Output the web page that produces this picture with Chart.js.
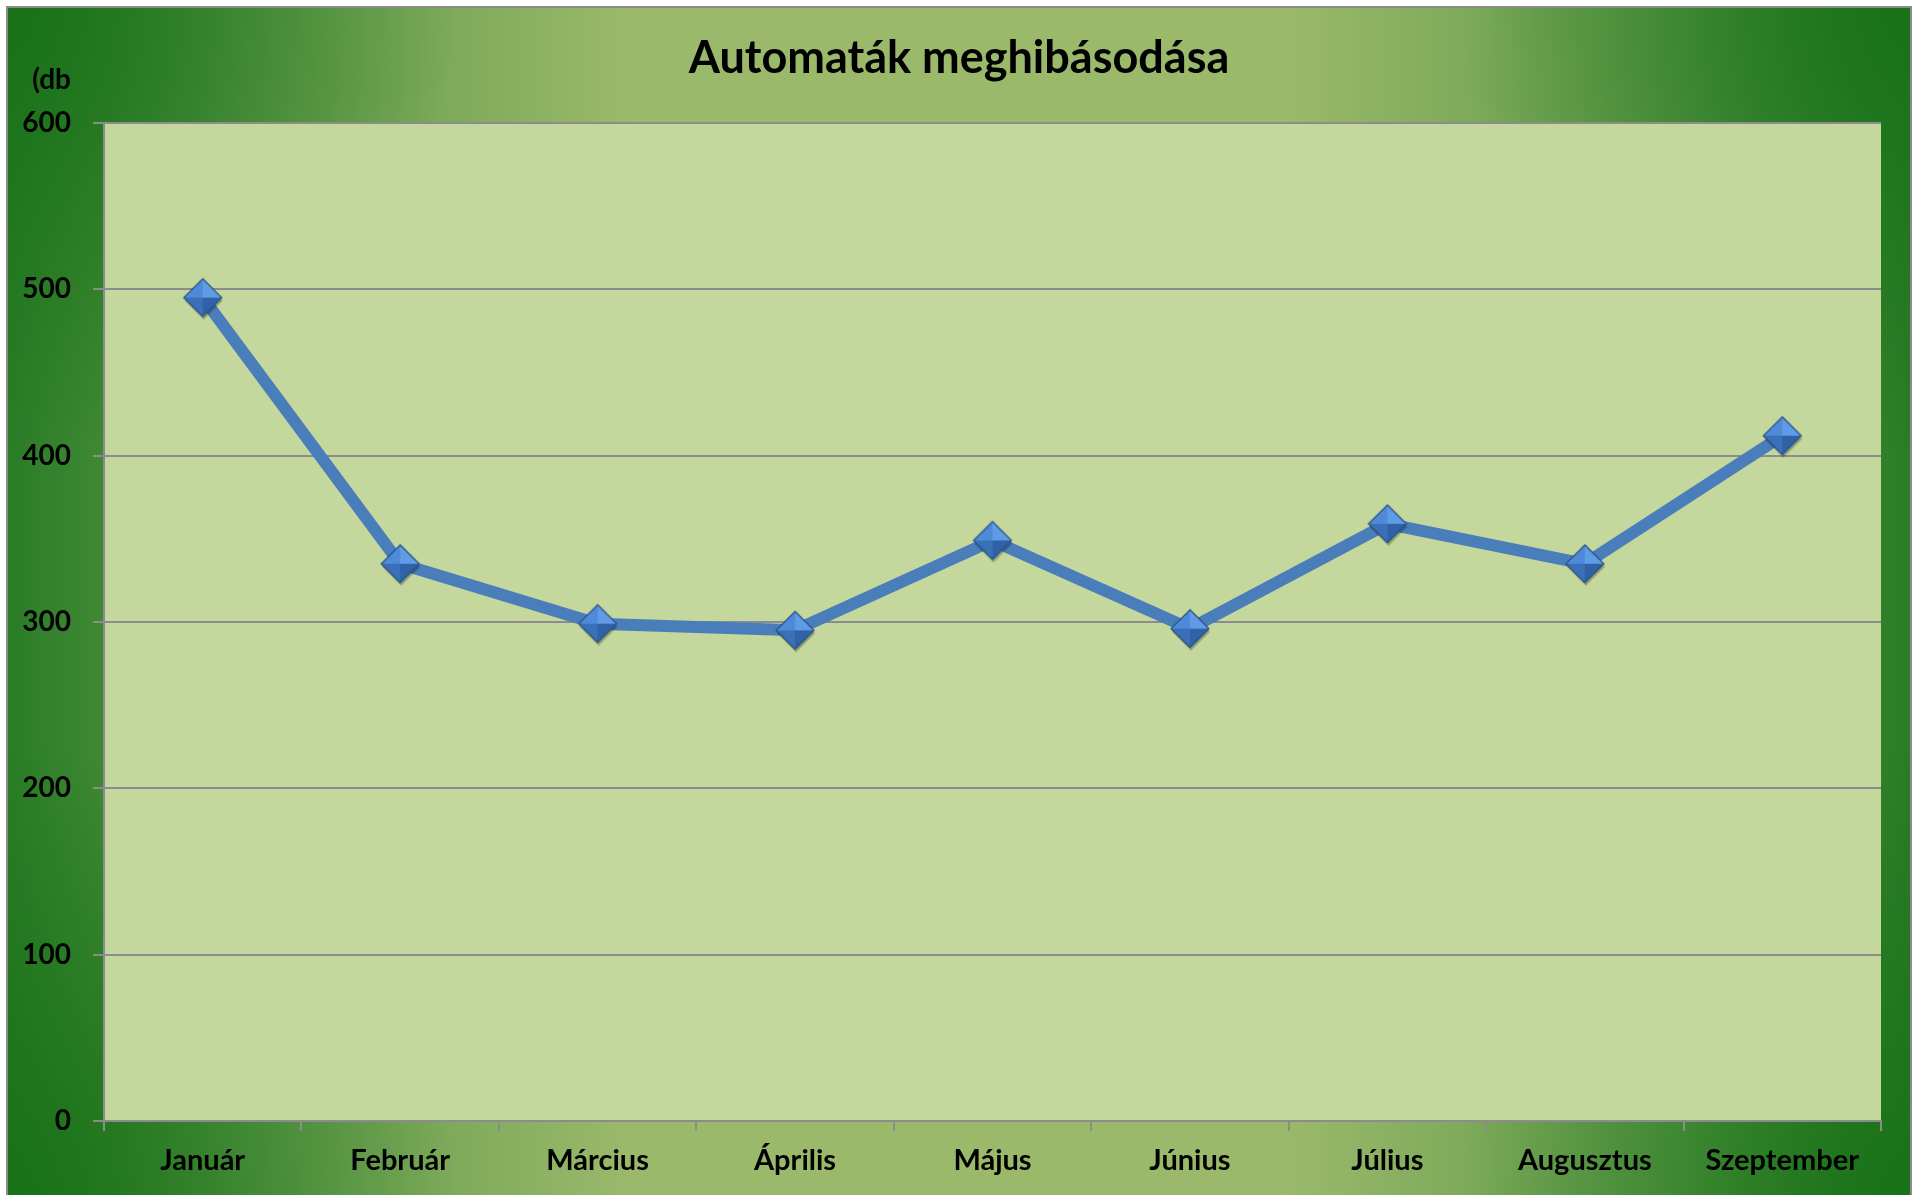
<!DOCTYPE html>
<html>
<head>
<meta charset="utf-8">
<script src="https://cdn.jsdelivr.net/npm/chart.js@4.4.1/dist/chart.umd.min.js"></script>
<style>
  html, body { margin: 0; padding: 0; background: #fff; overflow: hidden; }
  #wrap { position: absolute; left: 0; top: 0; width: 1923px; height: 1195px; }
</style>
</head>
<body>
<div id="wrap"><canvas id="chart"></canvas></div>
<script>
// months and failure counts (db)
const months = ['Január', 'Február', 'Március', 'Április', 'Május', 'Június', 'Július', 'Augusztus', 'Szeptember'];
const failures = [495, 335, 299, 295, 349, 296, 359, 335, 412];
const yMin = 0;
const yMax = 600;
const yStep = 100;
const chartTitle = 'Automaták meghibásodása';
const unitLabel = '(db';

const FONT = 'Lato, "Open Sans", sans-serif';

// shaded diamond marker, drawn once and used as point style
function makeDiamond(r) {
  const pad = 4;
  const c = document.createElement('canvas');
  c.width = c.height = 2 * (r + pad);
  const g = c.getContext('2d');
  const cx = r + pad, cy = r + pad;
  // soft shadow
  g.fillStyle = 'rgba(0,0,0,0.25)';
  g.beginPath();
  g.moveTo(cx + 1, cy - r + 3); g.lineTo(cx + r + 1, cy + 3);
  g.lineTo(cx + 1, cy + r + 3); g.lineTo(cx - r + 1, cy + 3);
  g.closePath(); g.fill();
  const tri = (pts, col) => {
    g.fillStyle = col;
    g.beginPath();
    g.moveTo(pts[0][0], pts[0][1]);
    for (let i = 1; i < pts.length; i++) g.lineTo(pts[i][0], pts[i][1]);
    g.closePath(); g.fill();
  };
  const T = [cx, cy - r], R = [cx + r, cy], B = [cx, cy + r], L = [cx - r, cy], C = [cx, cy];
  tri([T, C, L], '#4f8ad8');
  tri([T, R, C], '#5f9be6');
  tri([L, C, B], '#3a70b8');
  tri([C, R, B], '#2f62a6');
  g.strokeStyle = '#27507f';
  g.lineWidth = 1.2;
  g.beginPath();
  g.moveTo(T[0], T[1]); g.lineTo(R[0], R[1]); g.lineTo(B[0], B[1]); g.lineTo(L[0], L[1]);
  g.closePath(); g.stroke();
  return c;
}

const FRAME = { x0: 7, y0: 7, x1: 1911 };

const bgPlugin = {
  id: 'bg',
  beforeDraw(chart) {
    const { ctx, width, height, chartArea: a } = chart;
    const { x0, y0, x1 } = FRAME;
    const y1 = height + 10;
    ctx.save();
    ctx.fillStyle = '#ffffff';
    ctx.fillRect(0, 0, width, height);
    const lg = ctx.createLinearGradient(x0, 0, x1, 0);
    lg.addColorStop(0, '#2a7c26');
    lg.addColorStop(0.12, '#5d9948');
    lg.addColorStop(0.33, '#9bb96b');
    lg.addColorStop(0.67, '#9bb96b');
    lg.addColorStop(0.88, '#5d9948');
    lg.addColorStop(1, '#2a7c26');
    ctx.fillStyle = lg;
    ctx.fillRect(x0, y0, x1 - x0, y1 - y0);
    // darker corners
    const corners = [[x0, y0], [x1, y0], [x0, height], [x1, height]];
    corners.forEach(([cx, cy]) => {
      const rg = ctx.createRadialGradient(cx, cy, 0, cx, cy, 450);
      rg.addColorStop(0, 'rgba(22,112,22,0.9)');
      rg.addColorStop(1, 'rgba(22,112,22,0)');
      ctx.fillStyle = rg;
      ctx.fillRect(x0, y0, x1 - x0, y1 - y0);
    });
    ctx.strokeStyle = '#8c8c8c';
    ctx.lineWidth = 2;
    ctx.strokeRect(x0, y0, x1 - x0, y1 - y0);
    // plot area fill
    ctx.fillStyle = '#c4d79c';
    ctx.fillRect(a.left, a.top, a.right - a.left, a.bottom - a.top);
    ctx.restore();
  },
  afterDraw(chart) {
    const { ctx } = chart;
    ctx.save();
    ctx.fillStyle = '#000';
    ctx.textBaseline = 'middle';
    // title, centred on the outer frame like the original
    ctx.font = 'bold 45px ' + FONT;
    ctx.textAlign = 'center';
    ctx.fillText(chartTitle, (FRAME.x0 + FRAME.x1) / 2, 58);
    // unit label above the value axis
    ctx.font = 'bold 28px ' + FONT;
    ctx.textAlign = 'right';
    ctx.fillText(unitLabel, 71, 80);
    ctx.restore();
  }
};

const ctx = document.getElementById('chart');
new Chart(ctx, {
  type: 'line',
  data: {
    labels: months,
    datasets: [{
      label: 'db',
      data: failures,
      borderColor: '#4a7ebb',
      borderWidth: 12,
      tension: 0,
      pointStyle: makeDiamond(19),
      pointRadius: 19,
      pointHoverRadius: 19
    }]
  },
  options: {
    responsive: true,
    maintainAspectRatio: false,
    animation: false,
    events: [],
    layout: { padding: { left: 7, right: 42, top: 123, bottom: 0 } },
    plugins: {
      legend: { display: false },
      tooltip: { enabled: false },
      title: { display: false }
    },
    scales: {
      x: {
        offset: true,
        grid: {
          offset: true,
          drawOnChartArea: false,
          drawTicks: true,
          tickLength: 10,
          color: '#8c8c8c',
          lineWidth: 2
        },
        border: { display: true, color: '#8c8c8c', width: 2 },
        ticks: {
          color: '#000',
          padding: 12,
          font: { family: FONT, size: 29, weight: 'bold', lineHeight: 1.2 },
          maxRotation: 0
        },
        afterFit(scale) { scale.height = 74; }
      },
      y: {
        min: yMin,
        max: yMax,
        grid: {
          color: '#8c8c8c',
          lineWidth: 2,
          tickLength: 11
        },
        border: { display: true, color: '#8c8c8c', width: 2 },
        ticks: {
          stepSize: yStep,
          color: '#000',
          padding: 22,
          font: { family: FONT, size: 28, weight: 'bold' }
        },
        afterFit(scale) { scale.width = 97; }
      }
    }
  },
  plugins: [bgPlugin]
});
</script>
</body>
</html>
